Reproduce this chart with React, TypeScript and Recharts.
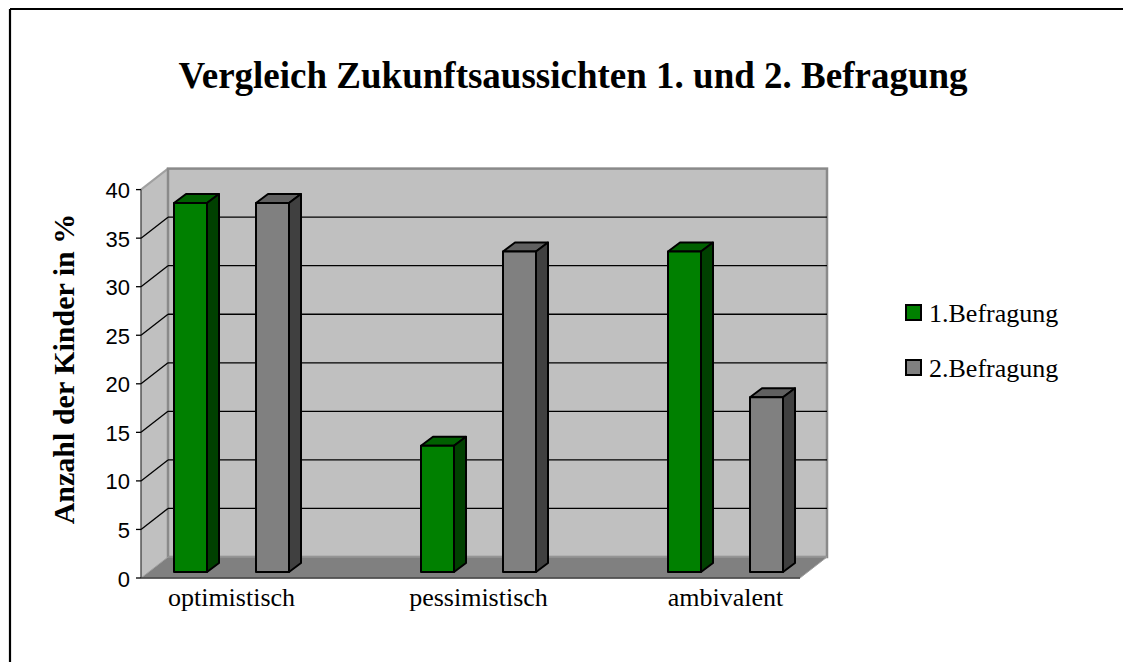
import { BarChart, Bar, XAxis, YAxis, CartesianGrid } from "recharts";

const categories = ["optimistisch", "pessimistisch", "ambivalent"];
const befragung1 = [38, 13, 33];
const befragung2 = [38, 33, 18];
const yTicks = [0, 5, 10, 15, 20, 25, 30, 35, 40];

const series = [
  { key: "b1", name: "1.Befragung", face: "#008000", top: "#006000", side: "#004000" },
  { key: "b2", name: "2.Befragung", face: "#808080", top: "#606060", side: "#404040" },
];

const data = categories.map((name, i) => ({
  name,
  b1: befragung1[i],
  b2: befragung2[i],
}));

// chart geometry (bar plane = recharts plot area)
const W = 1123;
const H = 662;
const PLOT_TOP = 183.6;
const PLOT_BOTTOM = 572;
// walls, relative to bar plane
const FRONT_LEFT = 141;
const FRONT_RIGHT = 800;
const DEPTH_X = 27;
const FRONT_DY = 6;
const BACK_DY = -15;

const serif = "'Liberation Serif', 'Times New Roman', serif";
const sans = "'Liberation Sans', Arial, sans-serif";

function Box3D(props: any) {
  const { x, y, width, height, face, top, side } = props;
  if (!height || height <= 0) return null;
  const dx = 12;
  const dy = 9;
  return (
    <g stroke="#000" strokeWidth={2} strokeLinejoin="round">
      <polygon
        points={`${x},${y} ${x + dx},${y - dy} ${x + width + dx},${y - dy} ${x + width},${y}`}
        fill={top}
      />
      <polygon
        points={`${x + width},${y} ${x + width + dx},${y - dy} ${x + width + dx},${y + height - dy} ${x + width},${y + height}`}
        fill={side}
      />
      <rect x={x} y={y} width={width} height={height} fill={face} />
    </g>
  );
}

function GridLine(props: any) {
  const y = props.y1;
  if (y >= PLOT_BOTTOM - 1 || y <= PLOT_TOP + 1) return <g key={props.key} />;
  const backX = FRONT_LEFT + DEPTH_X;
  return (
    <g key={props.key} stroke="#000" strokeWidth={1.3}>
      <line x1={FRONT_LEFT} y1={y + FRONT_DY} x2={backX} y2={y + BACK_DY} />
      <line x1={backX} y1={y + BACK_DY} x2={FRONT_RIGHT + DEPTH_X} y2={y + BACK_DY} />
    </g>
  );
}

function YTick(props: any) {
  const { y, payload } = props;
  const fy = y + FRONT_DY;
  return (
    <g>
      <line x1={FRONT_LEFT - 5} y1={fy} x2={FRONT_LEFT} y2={fy} stroke="#000" strokeWidth={1.3} />
      <text
        x={FRONT_LEFT - 11}
        y={fy + 1}
        textAnchor="end"
        dominantBaseline="central"
        fontFamily={sans}
        fontSize={22}
        fill="#000"
      >
        {payload.value}
      </text>
    </g>
  );
}

function XTick(props: any) {
  const { x, payload } = props;
  return (
    <text x={x} y={606} textAnchor="middle" fontFamily={serif} fontSize={26} fill="#000">
      {payload.value}
    </text>
  );
}

function Backdrop() {
  const fy0 = PLOT_BOTTOM + FRONT_DY;
  const fy40 = PLOT_TOP + FRONT_DY;
  const by0 = PLOT_BOTTOM + BACK_DY;
  const by40 = PLOT_TOP + BACK_DY;
  const bl = FRONT_LEFT + DEPTH_X;
  const br = FRONT_RIGHT + DEPTH_X;
  return (
    <svg width={W} height={H} style={{ position: "absolute", left: 0, top: 0 }}>
      <line x1={10} y1={9} x2={W} y2={9} stroke="#000" strokeWidth={2.2} />
      <line x1={10} y1={9} x2={10} y2={H} stroke="#000" strokeWidth={2.2} />
      <text x={573} y={88} textAnchor="middle" fontFamily={serif} fontWeight="bold" fontSize={37}>
        Vergleich Zukunftsaussichten 1. und 2. Befragung
      </text>
      <text
        transform="rotate(-90)"
        x={-369}
        y={74}
        textAnchor="middle"
        fontFamily={serif}
        fontWeight="bold"
        fontSize={30}
      >
        Anzahl der Kinder in %
      </text>
      {/* left wall */}
      <polygon
        points={`${FRONT_LEFT},${fy40} ${bl},${by40} ${bl},${by0} ${FRONT_LEFT},${fy0}`}
        fill="#c0c0c0"
      />
      <line x1={FRONT_LEFT} y1={fy40} x2={bl} y2={by40} stroke="#a0a0a0" strokeWidth={2} />
      {/* back wall */}
      <rect x={bl} y={by40} width={br - bl} height={by0 - by40} fill="#c0c0c0" stroke="#8a8a8a" strokeWidth={2.5} />
      {/* floor */}
      <polygon
        points={`${FRONT_LEFT},${fy0} ${FRONT_RIGHT},${fy0} ${br},${by0} ${bl},${by0}`}
        fill="#808080"
        stroke="#a0a0a0"
        strokeWidth={1}
      />
      <line x1={FRONT_LEFT} y1={fy0} x2={FRONT_RIGHT} y2={fy0} stroke="#404040" strokeWidth={1.3} />
      {/* front axis */}
      <line x1={FRONT_LEFT} y1={fy40} x2={FRONT_LEFT} y2={fy0} stroke="#404040" strokeWidth={1.3} />
      {/* legend */}
      {series.map((s, i) => (
        <g key={s.key}>
          <rect x={906} y={305 + i * 55} width={15} height={15} fill={s.face} stroke="#000" strokeWidth={2} />
          <text x={929} y={322 + i * 55} fontFamily={serif} fontSize={26}>
            {s.name}
          </text>
        </g>
      ))}
    </svg>
  );
}

export default function App() {
  return (
    <div style={{ position: "absolute", left: 0, top: 0, width: W, height: H, overflow: "hidden", background: "#fff" }}>
      <Backdrop />
      <div style={{ position: "absolute", left: 0, top: 0 }}>
        <BarChart
          width={W}
          height={H}
          data={data}
          margin={{ top: PLOT_TOP, right: 274, bottom: 50, left: 0 }}
          barCategoryGap={66}
          barGap={49}
        >
          <CartesianGrid vertical={false} horizontal={(p: any) => <GridLine {...p} />} />
          <XAxis dataKey="name" height={40} axisLine={false} tickLine={false} tick={<XTick />} interval={0} />
          <YAxis
            width={108}
            domain={[0, 40]}
            ticks={yTicks}
            axisLine={false}
            tickLine={false}
            tick={<YTick />}
            interval={0}
          />
          {series.map((s) => (
            <Bar
              key={s.key}
              dataKey={s.key}
              name={s.name}
              fill={s.face}
              isAnimationActive={false}
              shape={(p: any) => <Box3D {...p} face={s.face} top={s.top} side={s.side} />}
            />
          ))}
        </BarChart>
      </div>
    </div>
  );
}
